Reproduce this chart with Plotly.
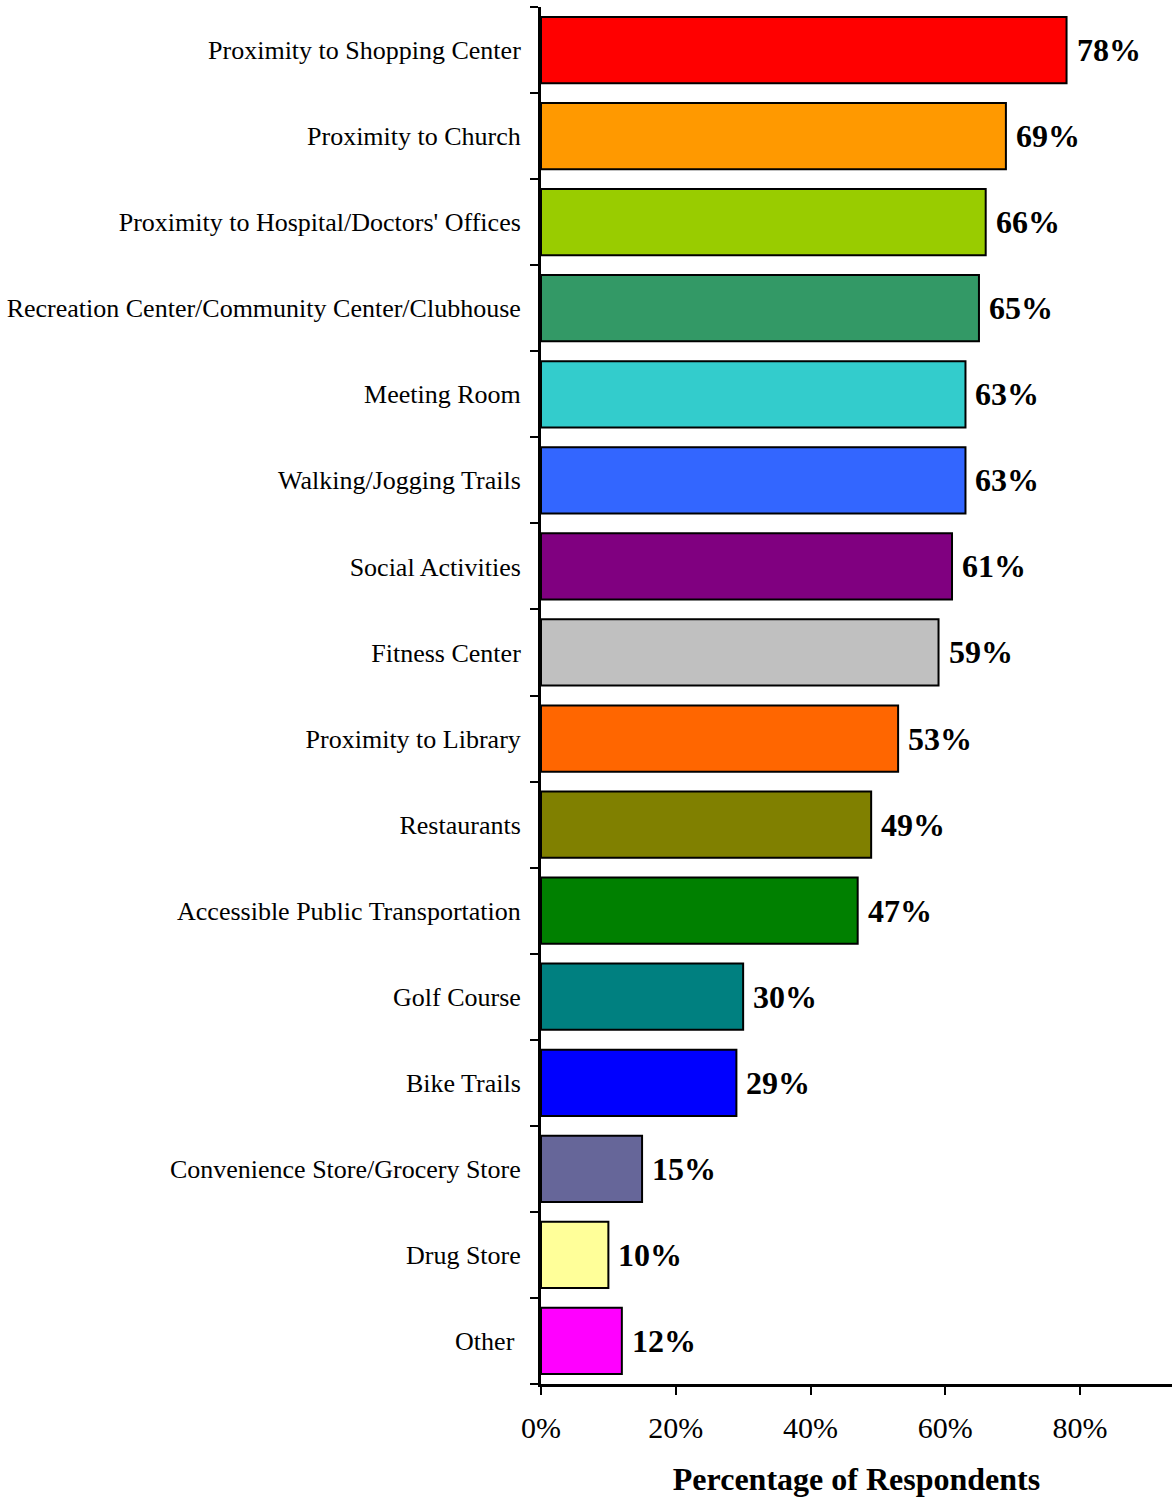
import plotly.graph_objects as go

categories = [
    "Proximity to Shopping Center",
    "Proximity to Church",
    "Proximity to Hospital/Doctors' Offices",
    "Recreation Center/Community Center/Clubhouse",
    "Meeting Room",
    "Walking/Jogging Trails",
    "Social Activities",
    "Fitness Center",
    "Proximity to Library",
    "Restaurants",
    "Accessible Public Transportation",
    "Golf Course",
    "Bike Trails",
    "Convenience Store/Grocery Store",
    "Drug Store",
    "Other\u00a0",
]
values = [78, 69, 66, 65, 63, 63, 61, 59, 53, 49, 47, 30, 29, 15, 10, 12]
colors = [
    "#FF0000", "#FF9900", "#99CC00", "#339966", "#33CCCC", "#3366FF",
    "#800080", "#C0C0C0", "#FF6600", "#808000", "#008000", "#008080",
    "#0000FF", "#666699", "#FFFF99", "#FF00FF",
]
x_ticks = [0, 20, 40, 60, 80]

positions = list(range(len(categories)))
font_family = "Liberation Serif"

fig = go.Figure(
    go.Bar(
        x=values,
        y=positions,
        orientation="h",
        width=0.77,
        marker=dict(color=colors, line=dict(color="black", width=2)),
        hoverinfo="skip",
    )
)

for pos, val in zip(positions, values):
    fig.add_annotation(
        x=val, y=pos, text=f"<b>{val}%</b>", showarrow=False,
        xanchor="left", yanchor="middle", xshift=8,
        font=dict(family=font_family, size=32, color="black"),
    )

fig.update_layout(
    width=1172, height=1501,
    margin=dict(l=541, r=0, t=7, b=117),
    paper_bgcolor="white", plot_bgcolor="white",
    showlegend=False,
    font=dict(family=font_family, color="black"),
)
fig.update_xaxes(
    range=[0, 93.65],
    tickvals=x_ticks,
    ticktext=[f"{t}%" for t in x_ticks],
    ticks="outside", ticklen=8, tickwidth=2, tickcolor="black",
    tickfont=dict(family=font_family, size=30),
    ticklabelstandoff=7,
    showline=True, linecolor="black", linewidth=3,
    showgrid=False, zeroline=False,
    title=dict(text="<b>Percentage of Respondents</b>",
               font=dict(family=font_family, size=32), standoff=25),
)
fig.update_yaxes(
    range=[len(categories) - 0.5, -0.5],
    tickmode="array",
    tickvals=positions,
    ticktext=categories,
    ticks="", ticklen=0,
    tickfont=dict(family=font_family, size=26),
    ticklabelstandoff=12,
    minor=dict(tick0=0.5, dtick=1, ticks="outside", ticklen=8, tickwidth=2,
               tickcolor="black", showgrid=False),
    showline=True, linecolor="black", linewidth=3,
    showgrid=False, zeroline=False,
)

fig.write_html("out.html")
